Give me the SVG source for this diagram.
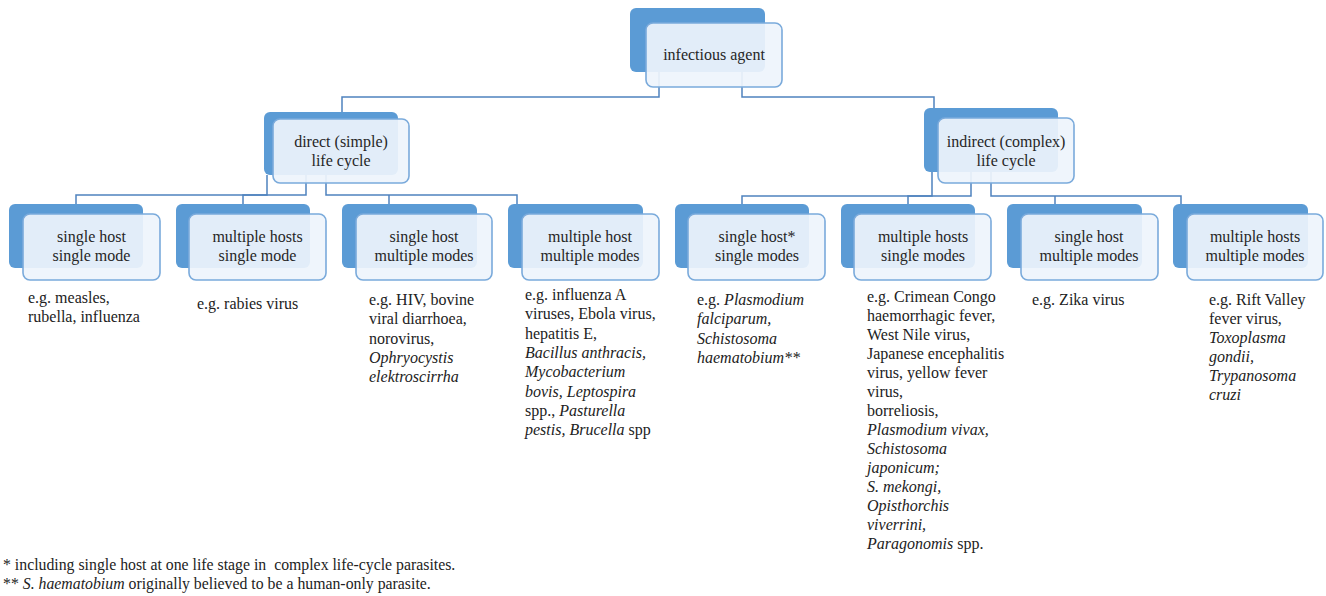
<svg xmlns="http://www.w3.org/2000/svg" width="1326" height="596" viewBox="0 0 1326 596">
<style>
.back{fill:#5B9BD5;}
.front{fill:#EEF4FC;fill-opacity:0.92;stroke:#7AAADB;stroke-width:1.6;}
.lbl{font-family:"Liberation Serif","Times New Roman",serif;font-size:16px;fill:#262626;text-anchor:middle;}
.desc{font-family:"Liberation Serif","Times New Roman",serif;font-size:16px;fill:#222;}
.note{font-family:"Liberation Serif","Times New Roman",serif;font-size:15.8px;fill:#222;}
.it{font-style:italic;}
.conn{fill:none;stroke:#4F82BE;stroke-width:1.5;}
</style>
<rect width="1326" height="596" fill="#fff"/>
<g id="connectors">
<path class="conn" d="M659 72 V97 H342 V112"/>
<path class="conn" d="M742 72 V97 H934 V108"/>
<path class="conn" d="M267 175 V195 H76 V204"/>
<path class="conn" d="M306 175 V195 H243 V204"/>
<path class="conn" d="M326 175 V195 H517 V204"/>
<path class="conn" d="M389 195 V204"/>
<path class="conn" d="M932 172 V196 H742 V204"/>
<path class="conn" d="M971 172 V196 H908 V204"/>
<path class="conn" d="M991 172 V196 H1181 V204"/>
<path class="conn" d="M1055 196 V204"/>
</g>
<g id="node-infectious-agent">
<rect class="back" x="630" y="8" width="135" height="64" rx="6"/>
<rect class="front" x="646" y="23" width="136" height="64" rx="7"/>
<text class="lbl" x="714" y="60">infectious agent</text>
</g>
<g id="node-direct">
<rect class="back" x="264" y="112" width="134" height="63" rx="6"/>
<rect class="front" x="273" y="119" width="136" height="64" rx="7"/>
<text class="lbl" x="341" y="147">direct (simple)</text>
<text class="lbl" x="341" y="166">life cycle</text>
</g>
<g id="node-indirect">
<rect class="back" x="924" y="108" width="134" height="64" rx="6"/>
<rect class="front" x="938" y="118" width="136" height="65" rx="7"/>
<text class="lbl" x="1006" y="147">indirect (complex)</text>
<text class="lbl" x="1006" y="166">life cycle</text>
</g>
<g id="node-c1">
<rect class="back" x="9" y="204" width="134" height="64" rx="6"/>
<rect class="front" x="23" y="214" width="137" height="66" rx="7"/>
<text class="lbl" x="91.5" y="242">single host</text>
<text class="lbl" x="91.5" y="261">single mode</text>
<text class="desc" x="28" y="303">e.g. measles,</text>
<text class="desc" x="28" y="322">rubella, influenza</text>
</g>
<g id="node-c2">
<rect class="back" x="176" y="204" width="134" height="64" rx="6"/>
<rect class="front" x="189" y="214" width="137" height="66" rx="7"/>
<text class="lbl" x="257.5" y="242">multiple hosts</text>
<text class="lbl" x="257.5" y="261">single mode</text>
<text class="desc" x="197" y="309">e.g. rabies virus</text>
</g>
<g id="node-c3">
<rect class="back" x="342" y="204" width="135" height="64" rx="6"/>
<rect class="front" x="356" y="214" width="136" height="66" rx="7"/>
<text class="lbl" x="424" y="242">single host</text>
<text class="lbl" x="424" y="261">multiple modes</text>
<text class="desc" x="369" y="305">e.g. HIV, bovine</text>
<text class="desc" x="369" y="324.3">viral diarrhoea,</text>
<text class="desc" x="369" y="343.6">norovirus,</text>
<text class="desc it" x="369" y="362.9">Ophryocystis</text>
<text class="desc it" x="369" y="382.2">elektroscirrha</text>
</g>
<g id="node-c4">
<rect class="back" x="508" y="204" width="135" height="64" rx="6"/>
<rect class="front" x="522" y="214" width="137" height="66" rx="7"/>
<text class="lbl" x="590" y="242">multiple host</text>
<text class="lbl" x="590" y="261">multiple modes</text>
<text class="desc" x="525" y="300">e.g. influenza A</text>
<text class="desc" x="525" y="319.3">viruses, Ebola virus,</text>
<text class="desc" x="525" y="338.6">hepatitis E,</text>
<text class="desc it" x="525" y="357.9">Bacillus anthracis,</text>
<text class="desc it" x="525" y="377.2">Mycobacterium</text>
<text class="desc it" x="525" y="396.5">bovis, Leptospira</text>
<text class="desc" x="525" y="415.8">spp., <tspan class="it">Pasturella</tspan></text>
<text class="desc" x="525" y="435.1"><tspan class="it">pestis,</tspan> <tspan class="it">Brucella</tspan> spp</text>
</g>
<g id="node-c5">
<rect class="back" x="675" y="204" width="134" height="64" rx="6"/>
<rect class="front" x="688" y="214" width="137" height="66" rx="7"/>
<text class="lbl" x="757" y="242">single host*</text>
<text class="lbl" x="757" y="261">single modes</text>
<text class="desc" x="697" y="305">e.g. <tspan class="it">Plasmodium</tspan></text>
<text class="desc it" x="697" y="324.3">falciparum,</text>
<text class="desc it" x="697" y="343.6">Schistosoma</text>
<text class="desc it" x="697" y="362.9">haematobium**</text>
</g>
<g id="node-c6">
<rect class="back" x="841" y="204" width="134" height="64" rx="6"/>
<rect class="front" x="854" y="214" width="137" height="66" rx="7"/>
<text class="lbl" x="923" y="242">multiple hosts</text>
<text class="lbl" x="923" y="261">single modes</text>
<text class="desc" x="867" y="302">e.g. Crimean Congo</text>
<text class="desc" x="867" y="321">haemorrhagic fever,</text>
<text class="desc" x="867" y="340">West Nile virus,</text>
<text class="desc" x="867" y="359">Japanese encephalitis</text>
<text class="desc" x="867" y="378">virus, yellow fever</text>
<text class="desc" x="867" y="397">virus,</text>
<text class="desc" x="867" y="416">borreliosis,</text>
<text class="desc it" x="867" y="435">Plasmodium vivax,</text>
<text class="desc it" x="867" y="454">Schistosoma</text>
<text class="desc it" x="867" y="473">japonicum;</text>
<text class="desc it" x="867" y="492">S. mekongi,</text>
<text class="desc it" x="867" y="511">Opisthorchis</text>
<text class="desc it" x="867" y="530">viverrini,</text>
<text class="desc" x="867" y="549"><tspan class="it">Paragonomis</tspan> spp.</text>
</g>
<g id="node-c7">
<rect class="back" x="1007" y="204" width="135" height="64" rx="6"/>
<rect class="front" x="1021" y="214" width="137" height="66" rx="7"/>
<text class="lbl" x="1089" y="242">single host</text>
<text class="lbl" x="1089" y="261">multiple modes</text>
<text class="desc" x="1032" y="305">e.g. Zika virus</text>
</g>
<g id="node-c8">
<rect class="back" x="1173" y="204" width="135" height="64" rx="6"/>
<rect class="front" x="1187" y="214" width="136" height="66" rx="7"/>
<text class="lbl" x="1255" y="242">multiple hosts</text>
<text class="lbl" x="1255" y="261">multiple modes</text>
<text class="desc" x="1209" y="305">e.g. Rift Valley</text>
<text class="desc" x="1209" y="324">fever virus,</text>
<text class="desc it" x="1209" y="343">Toxoplasma</text>
<text class="desc it" x="1209" y="362">gondii,</text>
<text class="desc it" x="1209" y="381">Trypanosoma</text>
<text class="desc it" x="1209" y="400">cruzi</text>
</g>
<g id="footnotes">
<text class="note" x="3" y="570">* including single host at one life stage in&#160; complex life-cycle parasites.</text>
<text class="note" x="3" y="589">** <tspan class="it">S. haematobium</tspan> originally believed to be a human-only parasite.</text>
</g>
</svg>
